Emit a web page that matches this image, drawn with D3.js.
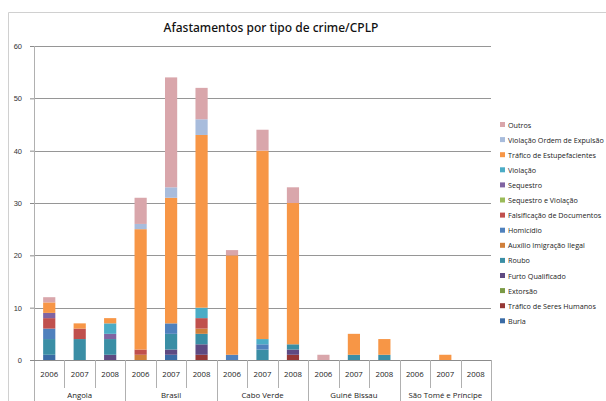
<!DOCTYPE html>
<html>
<head>
<meta charset="utf-8">
<script src="https://cdn.jsdelivr.net/npm/d3@7"></script>
<style>
  body { margin: 0; background: #fff; }
  svg { display: block; font-family: "Open Sans", "Liberation Sans", sans-serif; }
</style>
</head>
<body>
<script>
var countries = ["Angola", "Brasil", "Cabo Verde", "Guiné Bissau", "São Tomé e Príncipe"];
var years = ["2006", "2007", "2008"];
var yTicks = [0, 10, 20, 30, 40, 50, 60];

// series, bottom of the stack first
var seriesNames = ["Burla", "Tráfico de Seres Humanos", "Extorsão", "Furto Qualificado", "Roubo",
  "Auxílio Imigração Ilegal", "Homicídio", "Falsificação de Documentos", "Sequestro e Violação",
  "Sequestro", "Violação", "Tráfico de Estupefacientes", "Violação Ordem de Expulsão", "Outros"];
var seriesColors = ["#3a6ba5", "#963735", "#7a9a45", "#5e4a82", "#3a8ea5",
  "#d07f3a", "#4f81bd", "#c0504d", "#9bbb59",
  "#8064a2", "#4bacc6", "#f79646", "#a8bcdc", "#d9a6ab"];

// values per bar: Angola 06-08, Brasil 06-08, Cabo Verde 06-08, Guiné Bissau 06-08, STP 06-08
var burla        = [1,0,0, 0,1,0, 0,0,0, 0,0,0, 0,0,0];
var traficoSeres = [0,0,0, 0,0,1, 0,0,1, 0,0,0, 0,0,0];
var extorsao     = [0,0,0, 0,0,0, 0,0,0, 0,0,0, 0,0,0];
var furto        = [0,0,1, 0,1,2, 0,0,1, 0,0,0, 0,0,0];
var roubo        = [3,4,3, 0,3,2, 0,2,1, 0,1,1, 0,0,0];
var auxilio      = [0,0,0, 1,0,1, 0,0,0, 0,0,0, 0,0,0];
var homicidio    = [2,0,0, 0,2,0, 1,1,0, 0,0,0, 0,0,0];
var falsificacao = [2,2,0, 1,0,2, 0,0,0, 0,0,0, 0,0,0];
var seqViolacao  = [0,0,0, 0,0,0, 0,0,0, 0,0,0, 0,0,0];
var sequestro    = [1,0,1, 0,0,0, 0,0,0, 0,0,0, 0,0,0];
var violacao     = [0,0,2, 0,0,2, 0,1,0, 0,0,0, 0,0,0];
var estupef      = [2,1,1, 23,24,33, 19,36,27, 0,4,3, 0,1,0];
var ordemExp     = [0,0,0, 1,2,3, 0,0,0, 0,0,0, 0,0,0];
var outros       = [1,0,0, 5,21,6, 1,4,3, 1,0,0, 0,0,0];

var seriesValues = [burla, traficoSeres, extorsao, furto, roubo, auxilio, homicidio,
  falsificacao, seqViolacao, sequestro, violacao, estupef, ordemExp, outros];

var width = 606, height = 401;
var plotLeft = 34, plotRight = 491, plotTop = 46, plotBottom = 360;

var bars = [];
countries.forEach(function (c) {
  years.forEach(function (y) { bars.push(c + "|" + y); });
});

var rows = bars.map(function (b, i) {
  var r = { key: b };
  seriesNames.forEach(function (s, j) { r[s] = seriesValues[j][i]; });
  return r;
});
var stacked = d3.stack().keys(seriesNames)(rows);

var svg = d3.select("body").append("svg")
  .attr("width", width)
  .attr("height", height);

// chart frame
svg.append("path")
  .attr("d", "M8.5," + height + "V12.5H" + width)
  .attr("fill", "none")
  .attr("stroke", "#d0d0d0");

svg.append("text")
  .attr("x", 271)
  .attr("y", 32)
  .attr("text-anchor", "middle")
  .attr("font-family", "'Noto Sans', sans-serif")
  .attr("font-size", "12px")
  .attr("font-weight", 500)
  .attr("fill", "#111")
  .text("Afastamentos por tipo de crime/CPLP");

var x = d3.scaleBand().domain(bars).range([plotLeft, plotRight]).paddingInner(0.6).paddingOuter(0.3);
var yScale = d3.scaleLinear().domain([0, 60]).range([plotBottom, plotTop]);

// grid lines + y axis
var yAxis = d3.axisLeft(yScale).tickValues(yTicks).tickSize(4).tickPadding(8);
var gy = svg.append("g")
  .attr("transform", "translate(" + plotLeft + ",0)")
  .call(yAxis);
gy.select(".domain").remove();
gy.selectAll(".tick line").attr("stroke", "#8a8a8a");
gy.selectAll(".tick text").attr("font-size", "7.5px").attr("fill", "#333");

svg.append("g").selectAll("line")
  .data(yTicks.filter(function (t) { return t > 0; }))
  .enter().append("line")
  .attr("x1", plotLeft).attr("x2", plotRight)
  .attr("y1", function (d) { return Math.round(yScale(d)) + 0.5; })
  .attr("y2", function (d) { return Math.round(yScale(d)) + 0.5; })
  .attr("stroke", "#969696");

svg.append("line")
  .attr("x1", plotLeft + 0.5).attr("x2", plotLeft + 0.5)
  .attr("y1", plotTop).attr("y2", height)
  .attr("stroke", "#b0b0b0");

// bars
svg.append("g").selectAll("g")
  .data(stacked)
  .enter().append("g")
  .attr("fill", function (d, i) { return seriesColors[i]; })
  .selectAll("rect")
  .data(function (d) { return d; })
  .enter().append("rect")
  .attr("x", function (d) { return x(d.data.key); })
  .attr("width", x.bandwidth())
  .attr("y", function (d) { return yScale(d[1]); })
  .attr("height", function (d) { return yScale(d[0]) - yScale(d[1]); });

// category axis
var groupW = (plotRight - plotLeft) / countries.length;
var cat = svg.append("g");
cat.append("line")
  .attr("x1", plotLeft).attr("x2", plotRight)
  .attr("y1", plotBottom + 0.5).attr("y2", plotBottom + 0.5)
  .attr("stroke", "#8c8c8c");

bars.forEach(function (b, i) {
  var xs = Math.round(plotLeft + (i + 1) * (plotRight - plotLeft) / bars.length) + 0.5;
  var isGroup = (i + 1) % 3 === 0;
  cat.append("line")
    .attr("x1", xs).attr("x2", xs)
    .attr("y1", plotBottom).attr("y2", isGroup ? height : 388)
    .attr("stroke", "#b0b0b0");
  cat.append("text")
    .attr("x", x(b) + x.bandwidth() / 2)
    .attr("y", 377)
    .attr("text-anchor", "middle")
    .attr("font-size", "7.8px")
    .attr("fill", "#222")
    .text(b.split("|")[1]);
});

countries.forEach(function (c, i) {
  cat.append("text")
    .attr("x", plotLeft + groupW * (i + 0.5))
    .attr("y", 398)
    .attr("text-anchor", "middle")
    .attr("font-size", "7.8px")
    .attr("fill", "#222")
    .text(c);
});

// legend, top entry = last series
var legend = svg.append("g").attr("transform", "translate(500,125)");
var legendOrder = seriesNames.slice().reverse();
legendOrder.forEach(function (s, i) {
  var idx = seriesNames.indexOf(s);
  var g = legend.append("g").attr("transform", "translate(0," + (i * 15.1) + ")");
  g.append("rect")
    .attr("x", 0).attr("y", -3)
    .attr("width", 5).attr("height", 5)
    .attr("fill", seriesColors[idx]);
  g.append("text")
    .attr("x", 8)
    .attr("y", 2.5)
    .attr("font-size", "7.2px")
    .attr("fill", "#222")
    .text(s);
});
</script>
</body>
</html>
